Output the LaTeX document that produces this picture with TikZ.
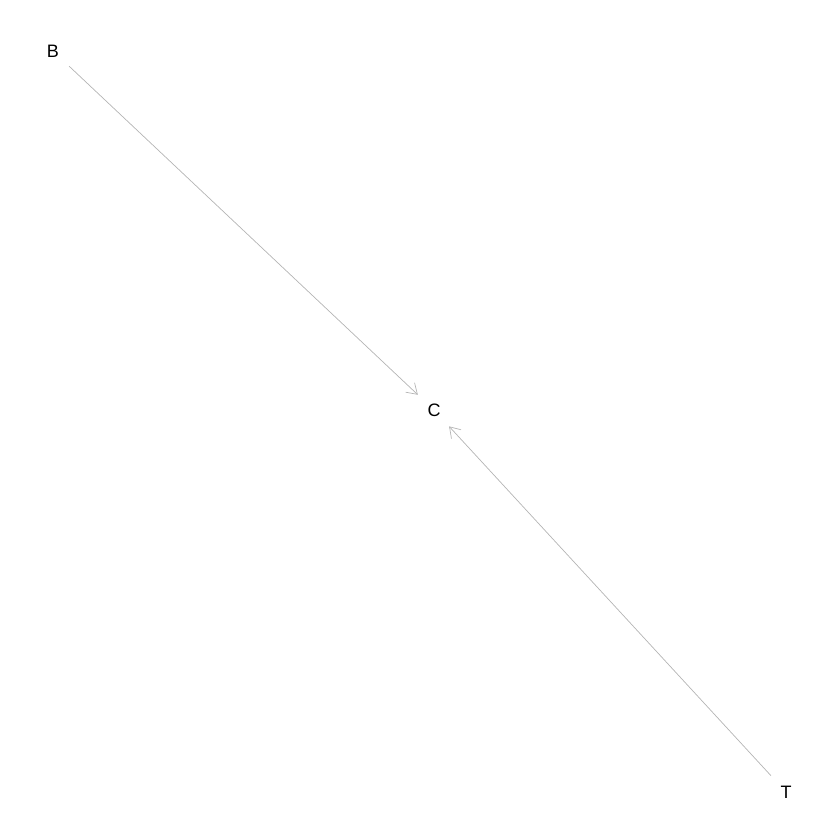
\documentclass[tikz,border=0pt]{standalone}
\usepackage{fontspec}
\setmainfont{Liberation Sans}
\usetikzlibrary{arrows.meta}
\begin{document}
\begin{tikzpicture}[x=1pt,y=-1pt,
  vert/.style={circle,minimum size=44pt,inner sep=0pt,font=\fontsize{18}{18}\selectfont},
  edge/.style={draw={rgb,255:red,180;green,180;blue,180},line width=0.7pt,-{Straight Barb[length=10pt,width=13pt,line width=0.7pt]}}]
\useasboundingbox (0,0) rectangle (840,840);
\node[vert] (B) at (53,51) {B};
\node[vert] (C) at (434,410) {C};
\node[vert] (T) at (786,792) {T};
\draw[edge] (B) -- (C);
\draw[edge] (T) -- (C);
\end{tikzpicture}
\end{document}
